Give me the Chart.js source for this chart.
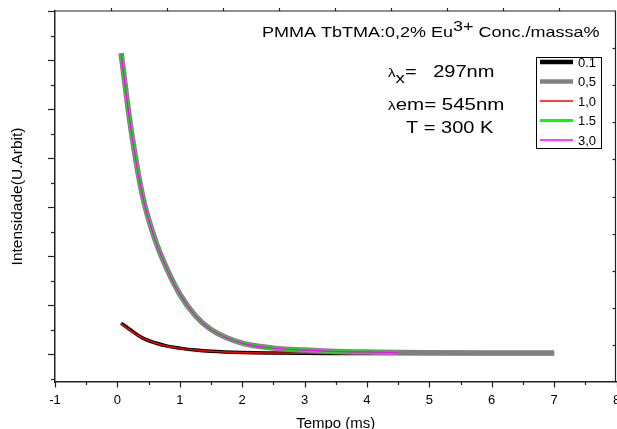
<!DOCTYPE html>
<html>
<head>
<meta charset="utf-8">
<script src="https://cdn.jsdelivr.net/npm/chart.js@4/dist/chart.umd.min.js"></script>
<style>
html, body { margin: 0; padding: 0; background: #fff; }
#box { width: 617px; height: 429px; }
</style>
</head>
<body>
<div id="box"><canvas id="grafico"></canvas></div>
<script>
// tempo (ms) e intensidade (U.Arbit)
const tempo  = [0.06, 0.2, 0.4, 0.6, 0.8, 1.0, 1.25, 1.5, 2.0, 2.5, 3.0, 3.5, 4.0, 4.5, 5.0, 6.0, 7.0];
const conc01 = [0.63, 0.50, 0.33, 0.23, 0.16, 0.12, 0.08, 0.055, 0.03, 0.02, 0.015, 0.012, 0.01, 0.01, 0.01, 0.01, 0.01];
const conc05 = [6.14, 4.75, 3.25, 2.35, 1.72, 1.22, 0.78, 0.50, 0.22, 0.12, 0.08, 0.05, 0.04, 0.03, 0.025, 0.02, 0.02];
const conc10 = [0.62, 0.49, 0.33, 0.23, 0.16, 0.12, 0.08, 0.055, 0.03, 0.02, 0.015, 0.012, 0.01, 0.01, 0.01, 0.01, 0.01];
const conc15 = [6.14, 4.75, 3.25, 2.35, 1.72, 1.22, 0.78, 0.50, 0.22, 0.12, 0.08, 0.05, 0.04, 0.03, null, null, null];
const conc30 = [6.13, 4.74, 3.25, 2.35, 1.72, 1.22, 0.78, 0.50, 0.22, 0.12, 0.08, 0.05, 0.04, 0.03, null, null, null];
const rotulos = ["0.1", "0,5", "1,0", "1.5", "3,0"];

const pontos = v => tempo.map((t, i) => ({ x: t, y: v[i] }));
const fonte = '"Liberation Sans", Arial, sans-serif';

function serie(label, valores, cor, largura, ordem) {
    return {
        label: label,
        data: pontos(valores),
        borderColor: cor,
        backgroundColor: cor,
        borderWidth: largura,
        pointRadius: 0,
        cubicInterpolationMode: "monotone",
        spanGaps: false,
        order: ordem
    };
}

// desenha pedaços de texto em sequência, esticados na horizontal como no original
function linha(ctx, x0, esticar, pedacos) {
    ctx.save();
    ctx.translate(x0, 0);
    ctx.scale(esticar, 1);
    let x = 0;
    pedacos.forEach(([s, size, y]) => {
        ctx.font = size + "px " + fonte;
        ctx.fillText(s, x, y);
        x += ctx.measureText(s).width;
    });
    ctx.restore();
}

const extras = {
    id: "extras",
    afterDraw(chart) {
        const ctx = chart.ctx;
        const a = chart.chartArea;
        const sx = chart.scales.x, sy = chart.scales.y;
        const dir = a.right - 1;
        ctx.save();
        ctx.strokeStyle = "#222";
        ctx.fillStyle = "#000";
        ctx.lineWidth = 1.2;

        // moldura superior e direita
        ctx.beginPath();
        ctx.moveTo(a.left, a.top); ctx.lineTo(dir, a.top); ctx.lineTo(dir, a.bottom);
        ctx.stroke();

        // ticks do eixo x
        for (let v = -1; v <= 8; v += 0.5) {
            const px = Math.round(sx.getPixelForValue(v)) + 0.5;
            const len = Number.isInteger(v) ? 5.5 : 3;
            ctx.beginPath(); ctx.moveTo(px, a.bottom); ctx.lineTo(px, a.bottom + len); ctx.stroke();
        }
        // ticks do eixo y
        for (let v = -0.5; v <= 7; v += 0.5) {
            const py = Math.round(sy.getPixelForValue(v)) + 0.5;
            const len = Number.isInteger(v) ? 7 : 4;
            ctx.beginPath(); ctx.moveTo(a.left, py); ctx.lineTo(a.left - len, py); ctx.stroke();
        }
        // ticks de cima e da direita
        for (let k = 1; k < 10; k++) {
            const px = Math.round(a.left + (dir - a.left) * k / 10) + 0.5;
            ctx.beginPath(); ctx.moveTo(px, a.top); ctx.lineTo(px, a.top - 3); ctx.stroke();
            const py = Math.round(a.bottom - (a.bottom - a.top) * k / 10) + 0.5;
            ctx.beginPath(); ctx.moveTo(dir, py); ctx.lineTo(dir - 3, py); ctx.stroke();
        }

        // textos
        ctx.textBaseline = "alphabetic";
        linha(ctx, 262, 1.2, [["PMMA TbTMA:0,2% Eu", 15, 37], ["3+", 15, 31], [" Conc./massa%", 15, 37]]);
        linha(ctx, 388, 1.25, [["\u03bb", 12, 77], ["x", 15, 83], ["=   297nm", 16, 77]]);
        linha(ctx, 388, 1.28, [["\u03bb", 12, 110], ["em= 545nm", 16, 110]]);
        linha(ctx, 406, 1.25, [["T = 300 K", 16, 133]]);

        // legenda
        ctx.lineWidth = 1;
        ctx.strokeStyle = "#000";
        ctx.strokeRect(536.5, 57.5, 65, 91);
        const linhas = [62, 81.5, 101, 120.5, 140];
        const ds = chart.data.datasets;
        ctx.font = "13px " + fonte;
        ctx.textBaseline = "middle";
        ds.forEach((d, i) => {
            ctx.strokeStyle = d.borderColor;
            ctx.lineWidth = d.borderWidth > 3 ? 4.5 : d.borderWidth;
            ctx.beginPath(); ctx.moveTo(540, linhas[i]); ctx.lineTo(573, linhas[i]); ctx.stroke();
            ctx.fillStyle = "#000";
            ctx.fillText(d.label, 578, linhas[i] + 1);
        });
        ctx.restore();
    }
};

new Chart(document.getElementById("grafico"), {
    type: "line",
    data: {
        datasets: [
            serie(rotulos[0], conc01, "#000000", 3.5, 4),
            serie(rotulos[1], conc05, "#808080", 5.5, 2),
            serie(rotulos[2], conc10, "#ff0000", 1.5, 3),
            serie(rotulos[3], conc15, "#00ff00", 3, 1),
            serie(rotulos[4], conc30, "#ff00ff", 1.5, 0)
        ]
    },
    options: {
        responsive: true,
        maintainAspectRatio: false,
        animation: false,
        layout: { padding: { top: 11, right: 0.5, left: 0, bottom: 0 } },
        plugins: { legend: { display: false }, tooltip: { enabled: false } },
        scales: {
            x: {
                type: "linear",
                min: -1,
                max: 8,
                grid: { display: true, drawOnChartArea: false, drawTicks: true, tickLength: 11, tickColor: "rgba(0,0,0,0)" },
                border: { display: true, color: "#222", width: 1.5 },
                ticks: {
                    stepSize: 1,
                    padding: 0,
                    color: "#000",
                    font: { family: fonte, size: 13 },
                    maxRotation: 0
                },
                title: {
                    display: true,
                    text: "Tempo (ms)",
                    color: "#000",
                    font: { family: fonte, size: 15 },
                    padding: { top: 0, bottom: -4 }
                },
                afterFit: s => { s.height = 47; s.paddingLeft = 0; s.paddingRight = 0; }
            },
            y: {
                type: "linear",
                min: -0.5714,
                max: 7,
                grid: { display: false },
                border: { display: true, color: "#222", width: 1.5 },
                ticks: { display: false },
                title: {
                    display: true,
                    text: "Intensidade(U.Arbit)",
                    color: "#000",
                    font: { family: fonte, size: 15.5 },
                    padding: { top: 8, bottom: 0 }
                },
                afterFit: s => { s.width = 55; }
            }
        }
    },
    plugins: [extras]
});
</script>
</body>
</html>
